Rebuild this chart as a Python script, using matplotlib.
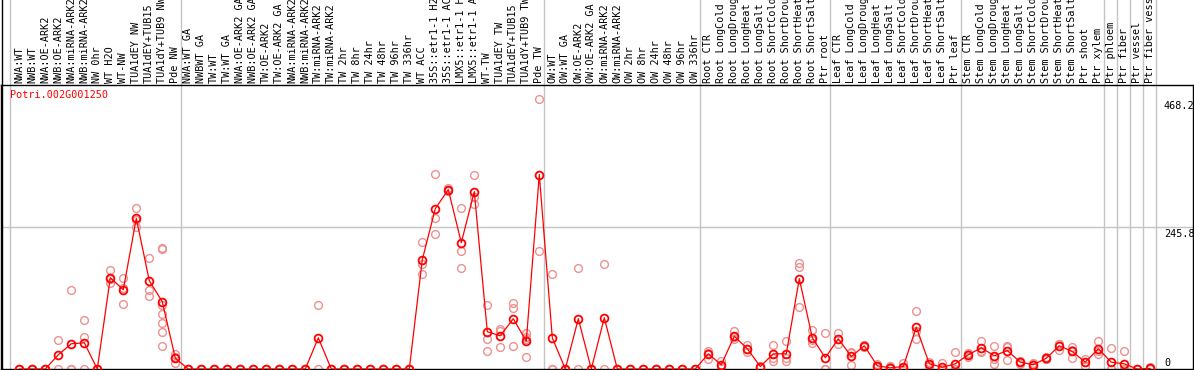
import matplotlib
matplotlib.use("Agg")
import matplotlib.pyplot as plt
from matplotlib.transforms import blended_transform_factory, offset_copy
from matplotlib.lines import Line2D

W, H, DPI = 1194, 370, 100

title = "Potri.002G001250"

labels = [
    "NWA:WT", "NWB:WT", "NWA:OE-ARK2", "NWB:OE-ARK2", "NWA:miRNA-ARK2",
    "NWB:miRNA-ARK2", "NW 0hr", "WT H2O", "WT-NW", "TUA1dEY NW",
    "TUA1dEY+TUB15", "TUA1dY+TUB9 NW", "Pde NW",
    "NWA:WT GA", "NWBWT GA", "TW:WT", "TW:WT GA", "NWA:OE-ARK2 GA",
    "NWB:OE-ARK2 GA", "TW:OE-ARK2", "TW:OE-ARK2 GA", "NWA:miRNA-ARK2",
    "NWB:miRNA-ARK2", "TW:miRNA-ARK2", "TW:miRNA-ARK2", "TW 2hr", "TW 8hr",
    "TW 24hr", "TW 48hr", "TW 96hr", "TW 336hr", "WT ACC",
    "35S::etr1-1 H2O", "35S::etr1-1 ACC", "LMX5::etr1-1 H2O",
    "LMX5::etr1-1 ACC", "WT-TW", "TUA1dEY TW", "TUA1dEY+TUB15",
    "TUA1dY+TUB9 TW", "Pde TW",
    "OW:WT", "OW:WT GA", "OW:OE-ARK2", "OW:OE-ARK2 GA", "OW:miRNA-ARK2",
    "OW:miRNA-ARK2", "OW 2hr", "OW 8hr", "OW 24hr", "OW 48hr", "OW 96hr",
    "OW 336hr",
    "Root CTR", "Root LongCold", "Root LongDrought", "Root LongHeat",
    "Root LongSalt", "Root ShortCold", "Root ShortDrought", "Root ShortHeat",
    "Root ShortSalt", "Ptr root",
    "Leaf CTR", "Leaf LongCold", "Leaf LongDrought", "Leaf LongHeat",
    "Leaf LongSalt", "Leaf ShortCold", "Leaf ShortDrought", "Leaf ShortHeat",
    "Leaf ShortSalt", "Ptr leaf",
    "Stem CTR", "Stem LongCold", "Stem LongDrought", "Stem LongHeat",
    "Stem LongSalt", "Stem ShortCold", "Stem ShortDrought", "Stem ShortHeat",
    "Stem ShortSalt", "Ptr shoot",
    "Ptr xylem", "Ptr phloem", "Ptr fiber", "Ptr vessel", "Ptr fiber vessel",
]

means = [
    0, 0, 0, 24.6, 43.7, 45.4, 0, 158, 137.2, 260.8, 152.8, 116.4, 18.7,
    0, 0, 0, 0, 0, 0, 0, 0, 0, 0, 54, 0, 0, 0, 0, 0, 0, 0,
    189.2, 277.6, 310.5, 218.7, 307, 64.5, 57.5, 87, 48.2, 336.5,
    54, 0, 87, 0, 88.7, 0, 0, 0, 0, 0, 0, 0,
    26.3, 7.3, 56.8, 35, 4.3, 26.3, 26.3, 156.3, 54, 19.4,
    52.3, 21.7, 40.2, 5.5, 2, 4.3, 72.4, 9, 3, 9,
    24.6, 36.7, 22.9, 32, 11.8, 7.3, 18.7, 40.2, 30.3, 11.8,
    35, 11.8, 9, 0, 1,
]

replicates = [
    [0, 0], [0, 0], [0, 0], [50, 0], [137, 0, 0], [85, 55, 0], [0, 0],
    [172, 149, 155], [158, 113, 140], [279, 245, 258], [193, 137, 127],
    [210, 208, 111, 96, 80, 64, 40], [26, 10, 20],
    [0, 0], [0, 0], [0, 0], [0, 0], [0, 0], [0, 0], [0, 0], [0, 0],
    [0, 0], [0, 0], [110, 0], [0, 0], [0, 0], [0, 0], [0, 0], [0, 0],
    [0, 0], [0, 0],
    [220, 182, 165], [337, 261, 234], [314, 310, 308], [279, 204, 174],
    [335, 298, 286], [111, 52, 31], [70, 66, 38], [115, 106, 40],
    [63, 55, 52, 20], [468.2, 205],
    [165, 0, 0], [0, 0], [175, 0], [0, 0], [181, 0], [0, 0], [0, 0],
    [0, 0], [0, 0], [0, 0], [0, 0], [0, 0],
    [32, 28, 18], [13, 7, 3], [65, 55, 52], [42, 35, 29], [6, 4, 3],
    [42, 19, 14], [48, 19, 14], [184, 176, 107], [67, 50, 45], [63, 0, 0],
    [63, 52, 43], [30, 27, 7], [42, 40, 38], [9, 5, 3], [5, 3, 1],
    [10, 3, 0], [100, 65, 52], [12, 9, 6], [10, 0, 0], [30, 0, 0],
    [27, 26, 20], [49, 32, 29], [40, 18, 9], [40, 38, 16], [14, 12, 9],
    [10, 8, 3], [20, 18, 17], [44, 43, 33], [38, 33, 19], [17, 12, 5],
    [48, 31, 26], [37, 0, 0], [32, 0, 0], [0, 0], [3, 0],
]

group_ends = [12, 40, 52, 62, 72, 83, 84, 85, 86, 87]
ytick_values = [0, 245.8, 468.2]

RED = "#ff0000"
PINK = "#ee9090"
GRAY = "#c4c4c4"
MONO = "DejaVu Sans Mono"

fig = plt.figure(figsize=(W / DPI, H / DPI), dpi=DPI)
fig.patch.set_facecolor("white")

px_l, px_r, px_top, px_bot = 1, 1193, 85, 369
ax = fig.add_axes([px_l / W, (H - px_bot) / H, (px_r - px_l) / W, (px_bot - px_top) / H])
ax.set_facecolor("none")

n = len(labels)
xs = list(range(n))
step = 13.0
x_first_px = 19.3
ax.set_xlim((px_l - x_first_px) / step, (px_r - x_first_px) / step)
ymax = max(max(r) for r in replicates)
ax.set_ylim(0, ymax * 1.05)

for s in ax.spines.values():
    s.set_color("black")
    s.set_linewidth(1.0)
ax.set_xticks([])
ax.set_yticks([])

# grid / separators
ax.axhline(ytick_values[1], color=GRAY, lw=1.0, zorder=0)
ext = H / (px_bot - px_top)
sep_positions = [-0.72] + [g + 0.4 for g in group_ends]
for sx in sep_positions:
    ax.axvline(sx, ymin=-0.01, ymax=ext, color=GRAY, lw=1.0, clip_on=False, zorder=0)

# left black border through label area
fig.add_artist(Line2D([1.5 / W, 1.5 / W], [0, 1], color="black", lw=1.0,
                      transform=fig.transFigure))

# replicates
rx, ry = [], []
for i, reps in enumerate(replicates):
    for v in reps:
        rx.append(i)
        ry.append(v)
ax.plot(rx, ry, linestyle="none", marker="o", ms=5.6, mfc="none", mec=PINK,
        mew=1.0, zorder=2)

# mean line
ax.plot(xs, means, color=RED, lw=0.9, marker="o", ms=5.6, mfc="none",
        mec=RED, mew=1.3, zorder=3)

# title
ax.text(10 / W, 1 - 90 / H, title, transform=fig.transFigure, color=RED,
        fontsize=7.3, family=MONO, ha="left", va="top")

# rotated labels
tb = blended_transform_factory(ax.transData, fig.transFigure)
for i, lab in enumerate(labels):
    ax.text(i, (H - 83) / H, lab, transform=tb, rotation=90, ha="center",
            va="bottom", fontsize=7.3, family=MONO, color="black", clip_on=False)

# y value labels on right
ty = blended_transform_factory(fig.transFigure, ax.transData)
for v in ytick_values:
    dy = 6.5 if v == 0 else -7.0
    tr = offset_copy(ty, fig=fig, x=0, y=dy * 72 / DPI, units="points")
    ax.text(1164 / W, v, f"{v:g}", transform=tr, ha="left", va="center",
            fontsize=7.3, family=MONO, color="black")

fig.savefig("out.png", dpi=DPI, facecolor="white")
